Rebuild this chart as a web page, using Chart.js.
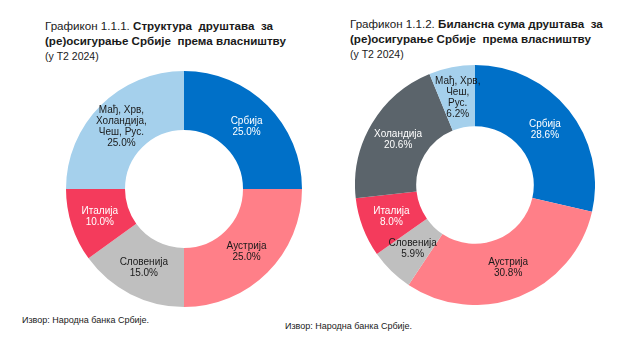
<!DOCTYPE html>
<html><head><meta charset="utf-8">
<script src="https://cdn.jsdelivr.net/npm/chart.js@4"></script>
<style>
html,body{margin:0;padding:0;background:#fff;width:637px;height:355px;overflow:hidden;font-family:"Liberation Sans",Arial,sans-serif;color:#1a1a1a;}
.title{position:absolute;font-size:11.6px;line-height:15px;}
.title b{font-weight:bold;}
.title .sub{font-size:10.5px;line-height:13px;}
.src{position:absolute;font-size:9px;}
canvas{position:absolute;}
</style></head><body>
<div class="title" style="left:45px;top:18px;">Графикон 1.1.1. <b>Структура&nbsp; друштава&nbsp; за<br>(ре)осигурање Србије&nbsp; према власништву</b><br><span class="sub">(у Т2 2024)</span></div>
<div class="title" style="left:350px;top:16px;">Графикон 1.1.2. <b>Билансна сума друштава&nbsp; за<br>(ре)осигурање Србије&nbsp; према власништву</b><br><span class="sub">(у Т2 2024)</span></div>
<div class="src" style="left:22px;top:315px;">Извор: Народна банка Србије.</div>
<div class="src" style="left:285px;top:321px;">Извор: Народна банка Србије.</div>
<div style="position:absolute;left:66px;top:71px;width:236px;height:236px;"><canvas id="c1"></canvas></div>
<div style="position:absolute;left:355px;top:65px;width:240px;height:240px;"><canvas id="c2"></canvas></div>
<script>
const labels1 = [["Србија"],["Аустрија"],["Словенија"],["Италија"],["Мађ, Хрв,","Холандија,","Чеш, Рус."]];
const values1 = [25.0, 25.0, 15.0, 10.0, 25.0];
const colors1 = ["#0070C8","#FF7F88","#BFBFBF","#F43B5C","#A5D0EC"];
const textColors1 = ["#ffffff","#1a1a1a","#1a1a1a","#ffffff","#1a1a1a"];

const labels2 = [["Србија"],["Аустрија"],["Словенија"],["Италија"],["Холандија"],["Мађ, Хрв,","Чеш,","Рус."]];
const values2 = [28.6, 30.8, 5.9, 8.0, 20.6, 6.2];
const colors2 = ["#0070C8","#FF7F88","#BFBFBF","#F43B5C","#5B646B","#A5D0EC"];
const textColors2 = ["#ffffff","#1a1a1a","#1a1a1a","#ffffff","#ffffff","#1a1a1a"];

const labelPlugin = {
  id:'sliceLabels',
  afterDatasetsDraw(chart, args, opts){
    const ctx = chart.ctx;
    const meta = chart.getDatasetMeta(0);
    const ds = chart.data.datasets[0];
    ctx.save();
    ctx.font = '10px "Liberation Sans", Arial, sans-serif';
    ctx.textAlign = 'center';
    ctx.textBaseline = 'middle';
    meta.data.forEach((arc, i) => {
      const p = arc.tooltipPosition();
      const lines = chart.data.labels[i].concat([ds.data[i].toFixed(1) + '%']);
      const lh = 11;
      const y0 = p.y - (lines.length - 1) * lh / 2;
      ctx.fillStyle = opts.textColors[i];
      lines.forEach((l, k) => ctx.fillText(l, p.x, y0 + k * lh));
    });
    ctx.restore();
  }
};

function make(id, labels, values, colors, textColors, cut){
  new Chart(document.getElementById(id), {
    type:'doughnut',
    data:{labels:labels, datasets:[{data:values, backgroundColor:colors, borderWidth:0}]},
    options:{
      responsive:true, maintainAspectRatio:false, animation:false,
      cutout:cut,
      layout:{padding:0},
      plugins:{legend:{display:false}, tooltip:{enabled:false}, sliceLabels:{textColors:textColors}}
    },
    plugins:[labelPlugin]
  });
}
make('c1', labels1, values1, colors1, textColors1, '50%');
make('c2', labels2, values2, colors2, textColors2, '49%');
</script>
</body></html>
